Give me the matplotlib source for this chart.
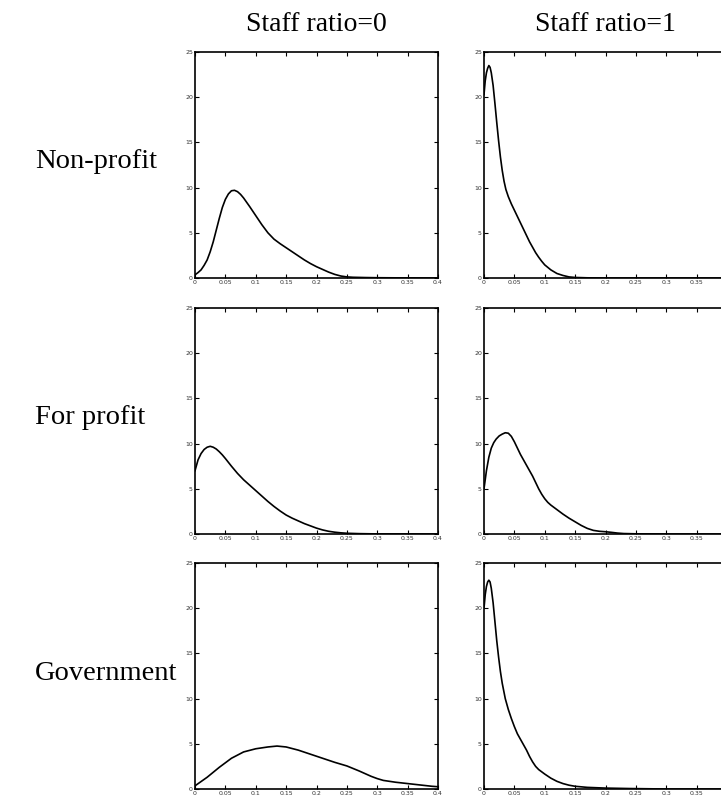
import matplotlib
matplotlib.use("Agg")
import matplotlib.pyplot as plt

# Density estimates of cost-inefficiency by ownership type and staff ratio
col_titles = ["Staff ratio=0", "Staff ratio=1"]
row_labels = ["Non-profit", "For profit", "Government"]

x_ticks = [0, 0.05, 0.1, 0.15, 0.2, 0.25, 0.3, 0.35, 0.4]
x_tick_labels = ["0", "0.05", "0.1", "0.15", "0.2", "0.25", "0.3", "0.35", "0.4"]
y_ticks = [0, 5, 10, 15, 20, 25]
y_tick_labels = ["0", "5", "10", "15", "20", "25"]

nonprofit_r0_x = [0, 0.005, 0.01, 0.015, 0.02, 0.025, 0.03, 0.035, 0.04, 0.045, 0.05, 0.055,
                  0.06, 0.065, 0.07, 0.075, 0.08, 0.09, 0.1, 0.11, 0.12, 0.13, 0.14, 0.15,
                  0.16, 0.17, 0.18, 0.19, 0.2, 0.21, 0.22, 0.23, 0.24, 0.25, 0.26, 0.28,
                  0.3, 0.35, 0.4]
nonprofit_r0_y = [0.35, 0.6, 0.9, 1.4, 2.0, 2.9, 4.0, 5.3, 6.6, 7.8, 8.7, 9.3,
                  9.65, 9.7, 9.55, 9.25, 8.85, 7.9, 6.9, 5.9, 5.0, 4.3, 3.8, 3.35,
                  2.9, 2.45, 2.0, 1.6, 1.25, 0.95, 0.65, 0.4, 0.22, 0.12, 0.08, 0.05,
                  0.03, 0.01, 0.0]

nonprofit_r1_x = [0, 0.002, 0.004, 0.006, 0.008, 0.01, 0.012, 0.015, 0.018, 0.021, 0.024,
                  0.027, 0.03, 0.033, 0.036, 0.04, 0.045, 0.05, 0.055, 0.06, 0.065, 0.07,
                  0.075, 0.08, 0.085, 0.09, 0.095, 0.1, 0.11, 0.12, 0.13, 0.14, 0.15,
                  0.17, 0.2, 0.4]
nonprofit_r1_y = [20.3, 21.8, 22.7, 23.2, 23.5, 23.3, 22.7, 21.3, 19.3, 17.2, 15.2,
                  13.4, 11.9, 10.7, 9.8, 9.0, 8.2, 7.5, 6.8, 6.1, 5.4, 4.7,
                  4.0, 3.4, 2.8, 2.3, 1.85, 1.45, 0.9, 0.5, 0.28, 0.12, 0.06,
                  0.02, 0.0, 0.0]

forprofit_r0_x = [0, 0.005, 0.01, 0.015, 0.02, 0.025, 0.03, 0.035, 0.04, 0.045, 0.05, 0.06,
                  0.07, 0.08, 0.09, 0.1, 0.11, 0.12, 0.13, 0.14, 0.15, 0.16, 0.17, 0.18,
                  0.19, 0.2, 0.21, 0.22, 0.23, 0.24, 0.25, 0.27, 0.3, 0.4]
forprofit_r0_y = [7.0, 8.2, 8.9, 9.35, 9.6, 9.7, 9.6, 9.4, 9.1, 8.75, 8.35, 7.5,
                  6.7, 6.0, 5.4, 4.8, 4.2, 3.6, 3.05, 2.55, 2.1, 1.75, 1.45, 1.15,
                  0.9, 0.65, 0.45, 0.3, 0.2, 0.13, 0.08, 0.04, 0.01, 0.0]

forprofit_r1_x = [0, 0.004, 0.008, 0.012, 0.016, 0.02, 0.025, 0.03, 0.035, 0.04, 0.045, 0.05,
                  0.055, 0.06, 0.065, 0.07, 0.075, 0.08, 0.085, 0.09, 0.095, 0.1, 0.105,
                  0.11, 0.12, 0.13, 0.14, 0.15, 0.16, 0.17, 0.18, 0.19, 0.2, 0.21, 0.22,
                  0.23, 0.25, 0.3, 0.4]
forprofit_r1_y = [5.0, 7.0, 8.5, 9.5, 10.1, 10.5, 10.85, 11.05, 11.2, 11.15, 10.8, 10.2,
                  9.5, 8.8, 8.2, 7.6, 7.0, 6.4, 5.7, 5.0, 4.4, 3.9, 3.5,
                  3.2, 2.7, 2.2, 1.75, 1.35, 0.95, 0.62, 0.4, 0.3, 0.25, 0.18, 0.1,
                  0.05, 0.02, 0.0, 0.0]

government_r0_x = [0, 0.02, 0.04, 0.06, 0.08, 0.1, 0.12, 0.135, 0.15, 0.17, 0.19, 0.21,
                   0.23, 0.25, 0.27, 0.29, 0.3, 0.31, 0.33, 0.35, 0.37, 0.39, 0.4]
government_r0_y = [0.35, 1.3, 2.4, 3.4, 4.1, 4.45, 4.65, 4.75, 4.65, 4.3, 3.85, 3.4,
                   2.95, 2.55, 2.0, 1.4, 1.15, 0.95, 0.75, 0.6, 0.45, 0.3, 0.25]

government_r1_x = [0, 0.002, 0.004, 0.006, 0.008, 0.01, 0.012, 0.015, 0.018, 0.021, 0.024,
                   0.027, 0.03, 0.035, 0.04, 0.045, 0.05, 0.055, 0.06, 0.065, 0.07, 0.075,
                   0.08, 0.085, 0.09, 0.1, 0.11, 0.12, 0.13, 0.14, 0.15, 0.17, 0.2, 0.24,
                   0.3, 0.4]
government_r1_y = [20.0, 21.5, 22.4, 22.9, 23.1, 22.9, 22.2, 20.6, 18.5, 16.4, 14.6,
                   13.0, 11.7, 10.0, 8.8, 7.8, 6.9, 6.1, 5.5, 4.9, 4.3, 3.6,
                   3.0, 2.5, 2.15, 1.65, 1.2, 0.85, 0.6, 0.42, 0.3, 0.18, 0.1, 0.05,
                   0.0, 0.0]

series = [
    [(nonprofit_r0_x, nonprofit_r0_y), (nonprofit_r1_x, nonprofit_r1_y)],
    [(forprofit_r0_x, forprofit_r0_y), (forprofit_r1_x, forprofit_r1_y)],
    [(government_r0_x, government_r0_y), (government_r1_x, government_r1_y)],
]

W, H = 721, 797
fig = plt.figure(figsize=(W / 100, H / 100), dpi=100)
fig.patch.set_facecolor("white")

serif = ["Liberation Serif", "DejaVu Serif"]
col_left = [195, 484]
col_width = 243
row_top = [52, 308, 563]
row_height = 226

for r in range(3):
    for c in range(2):
        left = col_left[c] / W
        bottom = (H - row_top[r] - row_height) / H
        ax = fig.add_axes([left, bottom, col_width / W, row_height / H])
        xs, ys = series[r][c]
        ax.plot(xs, ys, color="black", lw=1.2)
        ax.set_xlim(0, 0.4)
        ax.set_ylim(0, 25)
        ax.set_xticks(x_ticks)
        # the right column runs past the figure edge, so its last label is not shown
        labels = x_tick_labels if c == 0 else x_tick_labels[:-1] + [""]
        ax.set_xticklabels(labels)
        ax.set_yticks(y_ticks)
        ax.set_yticklabels(y_tick_labels)
        ax.tick_params(direction="in", length=3, width=0.8, labelsize=4.5,
                       top=True, right=True, pad=1.5, colors="black",
                       labelcolor="#333333")
        for s in ax.spines.values():
            s.set_linewidth(1.2)
        if r == 0:
            ax.text(0.5, 1.12, col_titles[c], transform=ax.transAxes,
                    ha="center", va="center", fontsize=20, family=serif)
        if c == 0:
            fig.text(35 / W, (H - (row_top[r] + row_height / 2 - 3)) / H, row_labels[r],
                     ha="left", va="center", fontsize=20.5, family=serif)

fig.savefig("out.png", dpi=100, facecolor="white")
